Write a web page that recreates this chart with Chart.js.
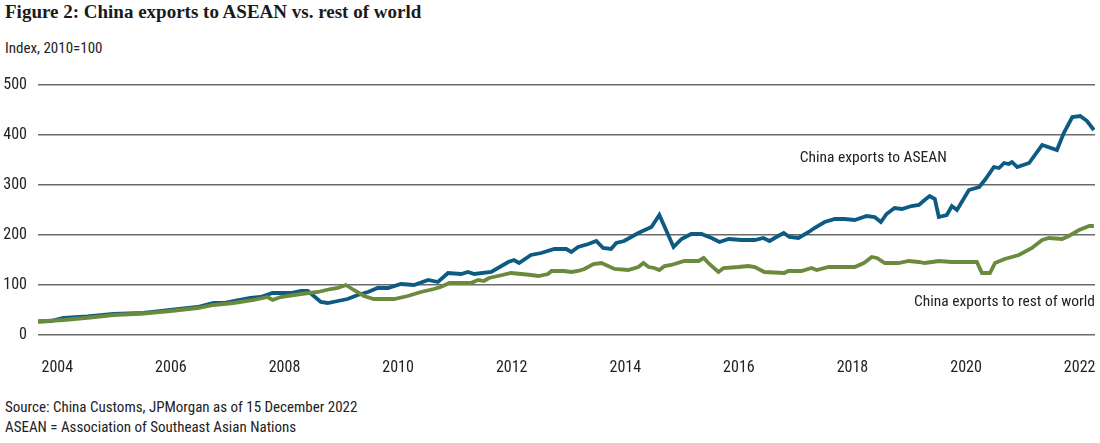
<!DOCTYPE html>
<html>
<head>
<meta charset="utf-8">
<script src="https://cdn.jsdelivr.net/npm/chart.js@4/dist/chart.umd.min.js"></script>
<style>
  body { margin: 0; width: 1100px; height: 443px; background: #fff; position: relative; overflow: hidden; }
  .txt { position: absolute; color: #222; font-family: 'Roboto Condensed', Roboto, sans-serif; white-space: nowrap; }
  #title { left: 5px; top: 1px; font-family: 'Liberation Serif', serif; font-weight: bold; font-size: 19px; color: #1a1a1a; }
  #unit { left: 5px; top: 39px; font-size: 15px; }
  #src { left: 5px; top: 398px; font-size: 15px; }
  #note { left: 5px; top: 418px; font-size: 15px; }
  #wrap { position: absolute; left: 0; top: 70px; width: 1100px; height: 310px; }
</style>
</head>
<body>
<div id="title" class="txt">Figure 2: China exports to ASEAN vs. rest of world</div>
<div id="unit" class="txt">Index, 2010=100</div>
<div id="wrap"><canvas id="chart"></canvas></div>
<div id="src" class="txt">Source: China Customs, JPMorgan as of 15 December 2022</div>
<div id="note" class="txt">ASEAN = Association of Southeast Asian Nations</div>
<script>
const FONT = "'Roboto Condensed', Roboto, sans-serif";

// time axis in decimal years
const aseanDates = [2003.66, 2003.88, 2004.11, 2004.53, 2004.99, 2005.52, 2005.99, 2006.47, 2006.75, 2006.93,
  2007.10, 2007.40, 2007.58, 2007.79, 2008.11, 2008.29, 2008.41, 2008.64, 2008.76, 2008.94,
  2009.11, 2009.29, 2009.47, 2009.64, 2009.82, 2010.05, 2010.28, 2010.53, 2010.70, 2010.88,
  2011.11, 2011.23, 2011.34, 2011.64, 2011.94, 2012.04, 2012.13, 2012.34, 2012.52, 2012.75,
  2012.96, 2013.05, 2013.17, 2013.35, 2013.49, 2013.61, 2013.75, 2013.84, 2013.98, 2014.23,
  2014.46, 2014.60, 2014.85, 2014.99, 2015.16, 2015.34, 2015.52, 2015.66, 2015.82, 2016.05,
  2016.28, 2016.43, 2016.54, 2016.66, 2016.79, 2016.89, 2017.05, 2017.23, 2017.33, 2017.51,
  2017.69, 2017.86, 2018.04, 2018.25, 2018.39, 2018.50, 2018.60, 2018.74, 2018.87, 2019.04,
  2019.17, 2019.27, 2019.36, 2019.45, 2019.52, 2019.66, 2019.75, 2019.84, 2020.05, 2020.23,
  2020.33, 2020.49, 2020.58, 2020.67, 2020.75, 2020.81, 2020.90, 2021.11, 2021.34, 2021.60,
  2021.72, 2021.87, 2022.01, 2022.13, 2022.25];
const aseanValues = [27, 28, 34, 37, 42, 44, 50, 56, 64, 64,
  68, 74, 76, 84, 84, 88, 88, 66, 64, 68,
  72, 80, 86, 94, 94, 102, 100, 110, 106, 124,
  122, 126, 122, 126, 146, 150, 144, 160, 164, 172,
  172, 166, 176, 182, 188, 174, 172, 184, 188, 204,
  216, 240, 176, 192, 202, 202, 194, 186, 192, 190,
  190, 194, 188, 196, 204, 196, 194, 206, 214, 226,
  232, 232, 230, 238, 236, 226, 242, 254, 252, 258,
  260, 270, 278, 272, 236, 240, 258, 250, 290, 296,
  310, 336, 334, 344, 342, 346, 336, 344, 380, 370,
  404, 436, 438, 428, 410];

const rowDates = [2003.66, 2004.11, 2004.58, 2004.99, 2005.52, 2005.99, 2006.47, 2006.75, 2007.10, 2007.46,
  2007.70, 2007.79, 2007.93, 2008.29, 2008.59, 2008.81, 2008.94, 2009.08, 2009.22, 2009.40,
  2009.57, 2009.93, 2010.17, 2010.40, 2010.63, 2010.75, 2010.90, 2011.11, 2011.28, 2011.41,
  2011.51, 2011.60, 2011.76, 2011.99, 2012.17, 2012.34, 2012.47, 2012.64, 2012.70, 2012.92,
  2013.05, 2013.17, 2013.28, 2013.44, 2013.58, 2013.81, 2014.05, 2014.23, 2014.32, 2014.41,
  2014.51, 2014.60, 2014.69, 2014.81, 2015.04, 2015.29, 2015.38, 2015.48, 2015.64, 2015.73,
  2015.99, 2016.17, 2016.28, 2016.45, 2016.80, 2016.87, 2017.10, 2017.28, 2017.37, 2017.58,
  2018.04, 2018.20, 2018.34, 2018.43, 2018.57, 2018.81, 2018.99, 2019.17, 2019.27, 2019.40,
  2019.52, 2019.75, 2020.19, 2020.28, 2020.42, 2020.51, 2020.68, 2020.93, 2021.16, 2021.34,
  2021.46, 2021.69, 2021.81, 2021.99, 2022.17, 2022.25];
const rowValues = [27, 30, 35, 40, 43, 48, 54, 60, 64, 70,
  76, 70, 76, 82, 86, 92, 94, 100, 90, 78,
  72, 72, 78, 86, 92, 96, 104, 104, 104, 110,
  108, 114, 118, 124, 122, 120, 118, 122, 128, 128,
  126, 128, 132, 142, 144, 132, 130, 136, 144, 136,
  134, 130, 138, 140, 148, 148, 154, 142, 126, 134,
  136, 138, 136, 126, 124, 128, 128, 134, 130, 136,
  136, 144, 156, 154, 144, 144, 148, 146, 144, 146,
  148, 146, 146, 124, 124, 144, 152, 160, 174, 190,
  194, 192, 198, 210, 218, 218];

const yearTicks = [2004, 2006, 2008, 2010, 2012, 2014, 2016, 2018, 2020, 2022];
const valueTicks = [0, 100, 200, 300, 400, 500];

const seriesLabels = ['China exports to ASEAN', 'China exports to rest of world'];
// label anchors: [year, value]
const labelAnchors = [[2017.07, 354], [2022.27, 66]];

const toPoints = (xs, ys) => xs.map((x, i) => ({ x: x, y: ys[i] }));

const seriesLabelPlugin = {
  id: 'seriesLabels',
  afterDatasetsDraw(chart) {
    const { ctx, scales: { x, y } } = chart;
    ctx.save();
    ctx.font = '15.5px ' + FONT;
    ctx.fillStyle = '#222';
    ctx.textBaseline = 'middle';
    ctx.textAlign = 'left';
    ctx.fillText(seriesLabels[0], x.getPixelForValue(labelAnchors[0][0]), y.getPixelForValue(labelAnchors[0][1]));
    ctx.textAlign = 'right';
    ctx.fillText(seriesLabels[1], x.getPixelForValue(labelAnchors[1][0]), y.getPixelForValue(labelAnchors[1][1]));
    ctx.restore();
  }
};

new Chart(document.getElementById('chart'), {
  type: 'line',
  data: {
    datasets: [
      {
        label: seriesLabels[1],
        data: toPoints(rowDates, rowValues),
        borderColor: '#6a8a3d',
        borderWidth: 3.8,
        pointRadius: 0,
        tension: 0
      },
      {
        label: seriesLabels[0],
        data: toPoints(aseanDates, aseanValues),
        borderColor: '#0d5b83',
        borderWidth: 3.8,
        pointRadius: 0,
        tension: 0
      }
    ]
  },
  options: {
    responsive: true,
    maintainAspectRatio: false,
    animation: false,
    layout: { padding: { top: 15, right: 5, left: 0, bottom: 0 } },
    plugins: { legend: { display: false }, tooltip: { enabled: false } },
    scales: {
      x: {
        type: 'linear',
        min: 2003.66,
        max: 2022.27,
        afterBuildTicks: (s) => { s.ticks = yearTicks.map(v => ({ value: v })); },
        afterFit: (s) => { s.height = 45; s.paddingLeft = 0; s.paddingRight = 0; },
        grid: { display: false },
        border: { display: false },
        ticks: {
          padding: 15,
          color: '#222',
          maxRotation: 0,
          font: { family: FONT, size: 16 },
          callback: (v) => String(v)
        }
      },
      y: {
        min: 0,
        max: 500,
        afterBuildTicks: (s) => { s.ticks = valueTicks.map(v => ({ value: v })); },
        afterFit: (s) => { s.width = 38; s.paddingTop = 0; s.paddingBottom = 0; },
        grid: { color: '#6a6a6a', lineWidth: 1.5, drawTicks: false },
        border: { display: false },
        ticks: {
          padding: 11,
          color: '#222',
          font: { family: FONT, size: 16 }
        }
      }
    }
  },
  plugins: [seriesLabelPlugin]
});
</script>
</body>
</html>
